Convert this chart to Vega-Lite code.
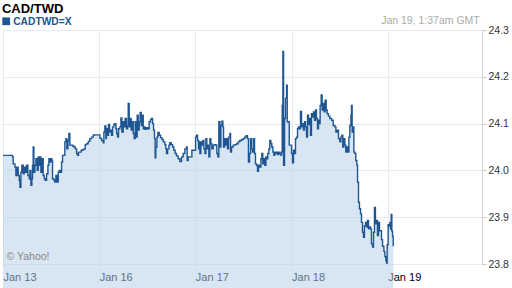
{
  "$schema": "https://vega.github.io/schema/vega-lite/v6.json",
  "width": 479,
  "height": 234,
  "autosize": {"type": "none"},
  "padding": {"left": 3, "top": 30, "right": 30, "bottom": 24},
  "background": "white",
  "config": {
    "font": "Liberation Sans",
    "view": {"stroke": "#d6d6d6", "strokeWidth": 1}
  },
  "datasets": {
    "fx": [
      {"t":0.000,"rate":24.032},{"t":0.099,"rate":24.029},{"t":0.106,"rate":24.014},{"t":0.124,"rate":24.007},{"t":0.134,"rate":23.989},{"t":0.148,"rate":24.007},{"t":0.158,"rate":23.989},{"t":0.169,"rate":23.979},{"t":0.176,"rate":23.964},{"t":0.186,"rate":23.996},{"t":0.196,"rate":24.011},{"t":0.210,"rate":23.993},{"t":0.221,"rate":24.007},{"t":0.235,"rate":23.996},{"t":0.245,"rate":24.011},{"t":0.259,"rate":23.989},{"t":0.273,"rate":23.982},{"t":0.280,"rate":24.000},{"t":0.290,"rate":23.968},{"t":0.300,"rate":23.982},{"t":0.307,"rate":24.011},{"t":0.314,"rate":24.050},{"t":0.321,"rate":23.996},{"t":0.332,"rate":24.011},{"t":0.342,"rate":24.025},{"t":0.356,"rate":24.000},{"t":0.366,"rate":24.029},{"t":0.377,"rate":24.011},{"t":0.384,"rate":24.029},{"t":0.394,"rate":23.996},{"t":0.404,"rate":24.025},{"t":0.418,"rate":23.989},{"t":0.429,"rate":23.982},{"t":0.439,"rate":23.979},{"t":0.453,"rate":23.993},{"t":0.467,"rate":24.011},{"t":0.477,"rate":24.025},{"t":0.488,"rate":24.018},{"t":0.498,"rate":24.025},{"t":0.508,"rate":24.021},{"t":0.515,"rate":23.982},{"t":0.529,"rate":23.979},{"t":0.539,"rate":23.975},{"t":0.550,"rate":23.989},{"t":0.564,"rate":23.975},{"t":0.574,"rate":23.996},{"t":0.585,"rate":24.000},{"t":0.598,"rate":23.996},{"t":0.609,"rate":24.018},{"t":0.619,"rate":24.032},{"t":0.633,"rate":24.032},{"t":0.643,"rate":24.061},{"t":0.654,"rate":24.068},{"t":0.664,"rate":24.046},{"t":0.675,"rate":24.064},{"t":0.685,"rate":24.079},{"t":0.695,"rate":24.054},{"t":0.706,"rate":24.054},{"t":0.723,"rate":24.052},{"t":0.737,"rate":24.050},{"t":0.751,"rate":24.046},{"t":0.765,"rate":24.036},{"t":0.775,"rate":24.032},{"t":0.785,"rate":24.039},{"t":0.799,"rate":24.039},{"t":0.813,"rate":24.043},{"t":0.827,"rate":24.044},{"t":0.841,"rate":24.046},{"t":0.855,"rate":24.055},{"t":0.869,"rate":24.057},{"t":0.886,"rate":24.062},{"t":0.903,"rate":24.068},{"t":0.920,"rate":24.071},{"t":0.938,"rate":24.075},{"t":0.948,"rate":24.076},
      {"t":1.007,"rate":24.069},{"t":1.025,"rate":24.064},{"t":1.042,"rate":24.059},{"t":1.049,"rate":24.082},{"t":1.059,"rate":24.095},{"t":1.070,"rate":24.068},{"t":1.076,"rate":24.089},{"t":1.087,"rate":24.075},{"t":1.097,"rate":24.098},{"t":1.108,"rate":24.082},{"t":1.118,"rate":24.086},{"t":1.128,"rate":24.075},{"t":1.139,"rate":24.093},{"t":1.153,"rate":24.098},{"t":1.163,"rate":24.100},{"t":1.174,"rate":24.089},{"t":1.181,"rate":24.079},{"t":1.191,"rate":24.071},{"t":1.201,"rate":24.089},{"t":1.215,"rate":24.093},{"t":1.226,"rate":24.112},{"t":1.236,"rate":24.082},{"t":1.250,"rate":24.104},{"t":1.260,"rate":24.093},{"t":1.270,"rate":24.111},{"t":1.284,"rate":24.089},{"t":1.295,"rate":24.095},{"t":1.302,"rate":24.143},{"t":1.312,"rate":24.093},{"t":1.323,"rate":24.111},{"t":1.333,"rate":24.086},{"t":1.343,"rate":24.104},{"t":1.354,"rate":24.079},{"t":1.364,"rate":24.068},{"t":1.374,"rate":24.104},{"t":1.385,"rate":24.071},{"t":1.395,"rate":24.118},{"t":1.406,"rate":24.086},{"t":1.416,"rate":24.104},{"t":1.426,"rate":24.124},{"t":1.437,"rate":24.096},{"t":1.447,"rate":24.118},{"t":1.458,"rate":24.089},{"t":1.468,"rate":24.093},{"t":1.478,"rate":24.088},{"t":1.492,"rate":24.091},{"t":1.506,"rate":24.089},{"t":1.520,"rate":24.104},{"t":1.534,"rate":24.109},{"t":1.544,"rate":24.111},{"t":1.555,"rate":24.100},{"t":1.565,"rate":24.086},{"t":1.575,"rate":24.068},{"t":1.582,"rate":24.027},{"t":1.589,"rate":24.050},{"t":1.600,"rate":24.071},{"t":1.610,"rate":24.081},{"t":1.624,"rate":24.075},{"t":1.638,"rate":24.070},{"t":1.652,"rate":24.066},{"t":1.666,"rate":24.061},{"t":1.683,"rate":24.055},{"t":1.693,"rate":24.046},{"t":1.700,"rate":24.036},{"t":1.711,"rate":24.046},{"t":1.725,"rate":24.054},{"t":1.735,"rate":24.059},{"t":1.749,"rate":24.055},{"t":1.763,"rate":24.050},{"t":1.776,"rate":24.043},{"t":1.790,"rate":24.036},{"t":1.804,"rate":24.031},{"t":1.821,"rate":24.025},{"t":1.839,"rate":24.019},{"t":1.856,"rate":24.029},{"t":1.874,"rate":24.036},{"t":1.891,"rate":24.046},{"t":1.908,"rate":24.050},{"t":1.915,"rate":24.021},{"t":1.925,"rate":24.029},{"t":1.964,"rate":24.043},
      {"t":2.002,"rate":24.071},{"t":2.012,"rate":24.075},{"t":2.023,"rate":24.064},{"t":2.033,"rate":24.046},{"t":2.040,"rate":24.061},{"t":2.047,"rate":24.036},{"t":2.057,"rate":24.061},{"t":2.068,"rate":24.054},{"t":2.078,"rate":24.064},{"t":2.088,"rate":24.046},{"t":2.099,"rate":24.036},{"t":2.109,"rate":24.068},{"t":2.119,"rate":24.046},{"t":2.130,"rate":24.054},{"t":2.140,"rate":24.029},{"t":2.151,"rate":24.068},{"t":2.161,"rate":24.057},{"t":2.171,"rate":24.046},{"t":2.185,"rate":24.054},{"t":2.199,"rate":24.055},{"t":2.213,"rate":24.054},{"t":2.223,"rate":24.036},{"t":2.234,"rate":24.029},{"t":2.244,"rate":24.104},{"t":2.255,"rate":24.050},{"t":2.265,"rate":24.096},{"t":2.276,"rate":24.105},{"t":2.286,"rate":24.093},{"t":2.293,"rate":24.050},{"t":2.303,"rate":24.068},{"t":2.314,"rate":24.054},{"t":2.324,"rate":24.068},{"t":2.334,"rate":24.046},{"t":2.345,"rate":24.071},{"t":2.359,"rate":24.079},{"t":2.366,"rate":24.039},{"t":2.376,"rate":24.050},{"t":2.393,"rate":24.054},{"t":2.411,"rate":24.055},{"t":2.428,"rate":24.057},{"t":2.445,"rate":24.061},{"t":2.462,"rate":24.064},{"t":2.480,"rate":24.066},{"t":2.497,"rate":24.068},{"t":2.514,"rate":24.071},{"t":2.528,"rate":24.074},{"t":2.542,"rate":24.068},{"t":2.552,"rate":24.018},{"t":2.563,"rate":24.036},{"t":2.573,"rate":24.068},{"t":2.584,"rate":24.046},{"t":2.594,"rate":24.039},{"t":2.604,"rate":24.068},{"t":2.615,"rate":24.036},{"t":2.625,"rate":24.014},{"t":2.636,"rate":24.011},{"t":2.646,"rate":23.998},{"t":2.656,"rate":24.011},{"t":2.670,"rate":24.007},{"t":2.681,"rate":24.025},{"t":2.691,"rate":24.036},{"t":2.701,"rate":24.014},{"t":2.712,"rate":24.025},{"t":2.722,"rate":24.011},{"t":2.733,"rate":24.029},{"t":2.743,"rate":24.025},{"t":2.753,"rate":24.036},{"t":2.764,"rate":24.046},{"t":2.774,"rate":24.064},{"t":2.785,"rate":24.057},{"t":2.795,"rate":24.050},{"t":2.806,"rate":24.039},{"t":2.816,"rate":24.032},{"t":2.826,"rate":24.039},{"t":2.837,"rate":24.036},{"t":2.847,"rate":24.039},{"t":2.857,"rate":24.034},{"t":2.868,"rate":24.039},{"t":2.878,"rate":24.036},{"t":2.889,"rate":24.032},{"t":2.896,"rate":24.039},{"t":2.903,"rate":24.139},{"t":2.910,"rate":24.254},{"t":2.917,"rate":24.011},{"t":2.927,"rate":24.111},{"t":2.937,"rate":24.154},{"t":2.948,"rate":24.182},{"t":2.955,"rate":24.104},{"t":2.976,"rate":24.054},
      {"t":3.000,"rate":24.036},{"t":3.010,"rate":24.016},{"t":3.020,"rate":24.043},{"t":3.031,"rate":24.036},{"t":3.041,"rate":24.068},{"t":3.052,"rate":24.071},{"t":3.062,"rate":24.089},{"t":3.072,"rate":24.093},{"t":3.083,"rate":24.089},{"t":3.093,"rate":24.126},{"t":3.104,"rate":24.093},{"t":3.114,"rate":24.100},{"t":3.124,"rate":24.086},{"t":3.135,"rate":24.104},{"t":3.145,"rate":24.093},{"t":3.156,"rate":24.071},{"t":3.166,"rate":24.118},{"t":3.176,"rate":24.098},{"t":3.187,"rate":24.111},{"t":3.197,"rate":24.075},{"t":3.207,"rate":24.121},{"t":3.218,"rate":24.114},{"t":3.228,"rate":24.125},{"t":3.239,"rate":24.107},{"t":3.249,"rate":24.129},{"t":3.259,"rate":24.111},{"t":3.270,"rate":24.089},{"t":3.280,"rate":24.107},{"t":3.291,"rate":24.100},{"t":3.297,"rate":24.139},{"t":3.308,"rate":24.161},{"t":3.318,"rate":24.129},{"t":3.329,"rate":24.143},{"t":3.339,"rate":24.125},{"t":3.349,"rate":24.150},{"t":3.360,"rate":24.129},{"t":3.370,"rate":24.121},{"t":3.384,"rate":24.116},{"t":3.398,"rate":24.111},{"t":3.416,"rate":24.107},{"t":3.433,"rate":24.096},{"t":3.450,"rate":24.093},{"t":3.461,"rate":24.082},{"t":3.474,"rate":24.086},{"t":3.488,"rate":24.068},{"t":3.502,"rate":24.061},{"t":3.513,"rate":24.071},{"t":3.523,"rate":24.075},{"t":3.533,"rate":24.050},{"t":3.544,"rate":24.068},{"t":3.554,"rate":24.054},{"t":3.564,"rate":24.039},{"t":3.575,"rate":24.050},{"t":3.585,"rate":24.039},{"t":3.596,"rate":24.071},{"t":3.606,"rate":24.096},{"t":3.617,"rate":24.118},{"t":3.623,"rate":24.139},{"t":3.630,"rate":24.082},{"t":3.641,"rate":24.093},{"t":3.648,"rate":24.039},{"t":3.658,"rate":24.036},{"t":3.668,"rate":24.021},{"t":3.679,"rate":24.011},{"t":3.686,"rate":23.975},{"t":3.696,"rate":23.932},{"t":3.706,"rate":23.918},{"t":3.717,"rate":23.907},{"t":3.727,"rate":23.889},{"t":3.738,"rate":23.868},{"t":3.748,"rate":23.857},{"t":3.758,"rate":23.882},{"t":3.769,"rate":23.889},{"t":3.779,"rate":23.879},{"t":3.789,"rate":23.893},{"t":3.800,"rate":23.875},{"t":3.810,"rate":23.879},{"t":3.821,"rate":23.875},{"t":3.831,"rate":23.843},{"t":3.842,"rate":23.836},{"t":3.852,"rate":23.868},{"t":3.862,"rate":23.921},{"t":3.872,"rate":23.886},{"t":3.883,"rate":23.893},{"t":3.893,"rate":23.861},{"t":3.904,"rate":23.889},{"t":3.914,"rate":23.871},{"t":3.935,"rate":23.852},{"t":3.946,"rate":23.838},{"t":3.960,"rate":23.827},{"t":3.970,"rate":23.816},{"t":3.980,"rate":23.808},{"t":3.987,"rate":23.802},{"t":3.994,"rate":23.841},
      {"t":4.004,"rate":23.884},{"t":4.015,"rate":23.881},{"t":4.022,"rate":23.889},{"t":4.029,"rate":23.874},{"t":4.036,"rate":23.906},{"t":4.043,"rate":23.870},{"t":4.050,"rate":23.859},{"t":4.057,"rate":23.838}
    ],
    "notes": [{"k": 1}]
  },
  "layer": [
    {
      "data": {"name": "fx"},
      "mark": {"type": "area", "interpolate": "step-after", "color": "#b3d0e6", "opacity": 0.52},
      "encoding": {
        "x": {
          "field": "t",
          "type": "quantitative",
          "scale": {"domain": [0, 4.98], "nice": false, "zero": false},
          "axis": {
            "values": [0, 1, 2, 3, 4],
            "labelExpr": "['Jan 13','Jan 16','Jan 17','Jan 18','Jan 19'][datum.value]",
            "labelAlign": "left",
            "labelBaseline": "top",
            "labelPadding": 4,
            "labelFontSize": 11,
            "labelColor": "#000000",
            "labelFlush": false,
            "tickSize": 3,
            "tickColor": "#dde3ea",
            "gridColor": "#e6eaf1",
            "domain": false,
            "title": null
          }
        },
        "y": {
          "field": "rate",
          "type": "quantitative",
          "scale": {"domain": [23.8, 24.3], "nice": false, "zero": false},
          "axis": {
            "orient": "right",
            "values": [23.8, 23.9, 24.0, 24.1, 24.2, 24.3],
            "format": ".1f",
            "labelFontSize": 10.5,
            "labelColor": "#333333",
            "labelPadding": 2,
            "tickSize": 4,
            "tickColor": "#cccccc",
            "gridColor": "#e6eaf1",
            "domain": false,
            "title": null
          }
        }
      }
    },
    {
      "data": {"name": "fx"},
      "mark": {"type": "line", "interpolate": "step-after", "color": "#1f5591", "strokeWidth": 1.4},
      "encoding": {
        "x": {"field": "t", "type": "quantitative"},
        "y": {"field": "rate", "type": "quantitative"}
      }
    },
    {
      "data": {"name": "notes"},
      "mark": {"type": "text", "text": "CAD/TWD", "fontSize": 13, "fontWeight": "bold", "color": "#000000", "align": "left", "baseline": "alphabetic"},
      "encoding": {"x": {"datum": -0.011}, "y": {"datum": 24.3355}}
    },
    {
      "data": {"name": "notes"},
      "mark": {"type": "point", "shape": "square", "filled": true, "size": 60, "color": "#1f5591", "opacity": 1},
      "encoding": {"x": {"datum": 0.033}, "y": {"datum": 24.3186}}
    },
    {
      "data": {"name": "notes"},
      "mark": {"type": "text", "text": "CADTWD=X", "fontSize": 10.25, "fontWeight": "bold", "color": "#1f5591", "align": "left", "baseline": "alphabetic"},
      "encoding": {"x": {"datum": 0.106}, "y": {"datum": 24.3116}}
    },
    {
      "data": {"name": "notes"},
      "mark": {"type": "text", "text": "Jan 19, 1:37am GMT", "fontSize": 10.5, "color": "#aaaaaa", "align": "right", "baseline": "alphabetic"},
      "encoding": {"x": {"datum": 4.957}, "y": {"datum": 24.3124}}
    },
    {
      "data": {"name": "notes"},
      "mark": {"type": "text", "text": "© Yahoo!", "fontSize": 10.5, "color": "#888888", "align": "left", "baseline": "alphabetic"},
      "encoding": {"x": {"datum": 0.037}, "y": {"datum": 23.8085}}
    }
  ]
}
